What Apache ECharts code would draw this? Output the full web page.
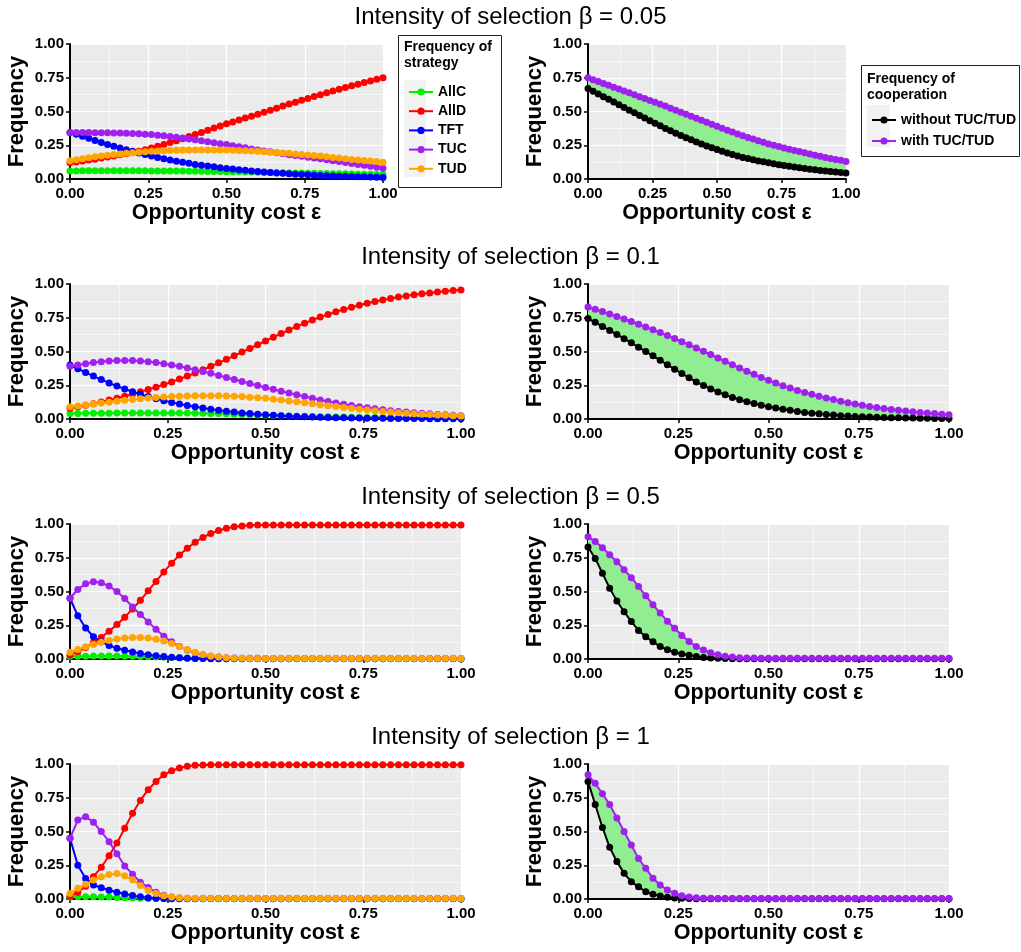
<!DOCTYPE html>
<html>
<head>
<meta charset="utf-8">
<script src="https://cdn.jsdelivr.net/npm/echarts@6/dist/echarts.min.js"></script>
<style>
  html, body { margin: 0; padding: 0; background: #fff; }
  #chart { width: 1021px; height: 952px; }
</style>
</head>
<body>
<div id="chart"></div>
<script>
// opportunity cost grid (x values)
var EPS = [0.00,0.02,0.04,0.06,0.08,0.10,0.12,0.14,0.16,0.18,
           0.20,0.22,0.24,0.26,0.28,0.30,0.32,0.34,0.36,0.38,
           0.40,0.42,0.44,0.46,0.48,0.50,0.52,0.54,0.56,0.58,
           0.60,0.62,0.64,0.66,0.68,0.70,0.72,0.74,0.76,0.78,
           0.80,0.82,0.84,0.86,0.88,0.90,0.92,0.94,0.96,0.98,
           1.00];
var STRATEGIES = ['AllC', 'AllD', 'TFT', 'TUC', 'TUD'];
var COOP_NAMES = ['without TUC/TUD', 'with TUC/TUD'];
var BETA_TITLES = ['Intensity of selection β = 0.05', 'Intensity of selection β = 0.1',
                   'Intensity of selection β = 0.5', 'Intensity of selection β = 1'];

// beta = 0.05
var allc_b005 = [0.060,0.060,0.061,0.061,0.061,0.061,0.061,0.061,0.061,0.061,
  0.061,0.061,0.061,0.060,0.060,0.060,0.060,0.059,0.059,0.058,
  0.058,0.057,0.056,0.056,0.055,0.054,0.053,0.053,0.052,0.051,
  0.050,0.049,0.048,0.047,0.046,0.045,0.044,0.044,0.043,0.042,
  0.041,0.040,0.039,0.038,0.038,0.037,0.036,0.035,0.035,0.034,0.033];
var alld_b005 = [0.120,0.126,0.133,0.140,0.147,0.155,0.163,0.171,0.179,0.187,
  0.196,0.206,0.217,0.229,0.242,0.256,0.270,0.284,0.299,0.314,
  0.329,0.345,0.361,0.377,0.393,0.409,0.423,0.437,0.451,0.465,
  0.480,0.495,0.510,0.525,0.540,0.555,0.569,0.583,0.597,0.611,
  0.625,0.638,0.651,0.664,0.677,0.690,0.702,0.714,0.726,0.738,0.750];
var tft_b005 = [0.345,0.331,0.317,0.302,0.286,0.270,0.256,0.242,0.229,0.217,
  0.205,0.193,0.181,0.170,0.160,0.150,0.141,0.132,0.124,0.116,
  0.108,0.102,0.096,0.090,0.084,0.078,0.074,0.069,0.065,0.060,
  0.055,0.052,0.049,0.045,0.042,0.038,0.036,0.033,0.031,0.028,
  0.026,0.024,0.023,0.021,0.020,0.018,0.017,0.016,0.014,0.013,0.012];
var tuc_b005 = [0.345,0.345,0.344,0.344,0.343,0.343,0.342,0.341,0.340,0.339,
  0.337,0.335,0.332,0.329,0.325,0.320,0.315,0.309,0.303,0.297,
  0.290,0.283,0.276,0.269,0.262,0.255,0.247,0.239,0.231,0.223,
  0.215,0.208,0.201,0.194,0.187,0.180,0.174,0.168,0.162,0.156,
  0.150,0.143,0.136,0.129,0.122,0.115,0.108,0.101,0.094,0.087,0.080];
var tud_b005 = [0.135,0.143,0.150,0.157,0.164,0.170,0.176,0.181,0.186,0.191,
  0.195,0.199,0.202,0.205,0.208,0.210,0.212,0.213,0.214,0.215,
  0.215,0.215,0.215,0.215,0.215,0.214,0.213,0.211,0.209,0.207,
  0.205,0.202,0.199,0.196,0.193,0.190,0.186,0.182,0.178,0.174,
  0.170,0.165,0.160,0.155,0.150,0.145,0.141,0.137,0.133,0.129,0.125];
var without_b005 = [0.670,0.650,0.630,0.610,0.590,0.570,0.550,0.530,0.510,0.490,
  0.470,0.451,0.432,0.413,0.394,0.375,0.357,0.339,0.322,0.306,
  0.290,0.275,0.260,0.245,0.231,0.218,0.205,0.193,0.181,0.170,
  0.160,0.151,0.142,0.134,0.127,0.120,0.113,0.106,0.100,0.094,
  0.088,0.083,0.078,0.073,0.068,0.063,0.059,0.055,0.051,0.048,0.045];
var with_b005 = [0.750,0.736,0.722,0.708,0.694,0.680,0.666,0.652,0.638,0.624,
  0.610,0.596,0.582,0.568,0.554,0.540,0.525,0.510,0.495,0.480,
  0.465,0.450,0.435,0.420,0.405,0.390,0.376,0.362,0.348,0.334,
  0.320,0.308,0.296,0.284,0.272,0.260,0.250,0.240,0.230,0.221,
  0.212,0.203,0.194,0.185,0.176,0.168,0.160,0.152,0.145,0.138,0.130];

// beta = 0.1
var allc_b01 = [0.040,0.041,0.042,0.042,0.043,0.043,0.044,0.044,0.045,0.045,
  0.045,0.045,0.045,0.045,0.044,0.044,0.043,0.042,0.041,0.040,
  0.038,0.036,0.034,0.032,0.030,0.028,0.026,0.025,0.023,0.021,
  0.020,0.019,0.017,0.016,0.015,0.014,0.013,0.012,0.011,0.011,
  0.010,0.009,0.009,0.008,0.008,0.007,0.007,0.006,0.006,0.005,0.005];
var alld_b01 = [0.080,0.090,0.101,0.113,0.126,0.140,0.154,0.169,0.185,0.201,
  0.218,0.236,0.255,0.275,0.296,0.318,0.341,0.365,0.390,0.416,
  0.442,0.469,0.496,0.523,0.550,0.578,0.606,0.633,0.660,0.686,
  0.710,0.733,0.755,0.775,0.794,0.812,0.828,0.843,0.857,0.870,
  0.882,0.893,0.903,0.912,0.920,0.927,0.934,0.940,0.946,0.951,0.956];
var tft_b01 = [0.400,0.372,0.345,0.318,0.292,0.267,0.244,0.222,0.202,0.183,
  0.166,0.150,0.136,0.123,0.111,0.100,0.090,0.081,0.072,0.064,
  0.057,0.051,0.045,0.040,0.035,0.031,0.027,0.024,0.021,0.019,
  0.016,0.014,0.013,0.011,0.010,0.009,0.008,0.007,0.006,0.005,
  0.005,0.004,0.004,0.003,0.003,0.003,0.002,0.002,0.002,0.002,0.002];
var tuc_b01 = [0.390,0.400,0.410,0.418,0.425,0.430,0.433,0.434,0.433,0.430,
  0.425,0.418,0.410,0.400,0.390,0.378,0.365,0.352,0.338,0.323,
  0.308,0.293,0.278,0.263,0.248,0.234,0.220,0.206,0.192,0.179,
  0.166,0.153,0.141,0.130,0.119,0.109,0.100,0.091,0.083,0.076,
  0.069,0.062,0.056,0.051,0.046,0.042,0.038,0.034,0.031,0.028,0.025];
var tud_b01 = [0.090,0.097,0.104,0.111,0.118,0.125,0.132,0.138,0.144,0.150,
  0.155,0.159,0.163,0.166,0.169,0.171,0.172,0.173,0.173,0.172,
  0.171,0.169,0.166,0.162,0.158,0.153,0.147,0.141,0.134,0.127,
  0.120,0.113,0.106,0.099,0.092,0.085,0.079,0.073,0.067,0.061,
  0.056,0.051,0.047,0.043,0.039,0.036,0.033,0.030,0.027,0.025,0.022];
var without_b01 = [0.745,0.716,0.686,0.656,0.626,0.595,0.564,0.532,0.500,0.468,
  0.435,0.402,0.369,0.337,0.305,0.275,0.248,0.223,0.200,0.179,
  0.160,0.143,0.128,0.114,0.102,0.091,0.081,0.072,0.064,0.056,
  0.049,0.043,0.038,0.033,0.029,0.025,0.022,0.019,0.017,0.015,
  0.013,0.011,0.010,0.009,0.008,0.007,0.006,0.005,0.004,0.004,0.003];
var with_b01 = [0.830,0.813,0.796,0.778,0.760,0.741,0.722,0.702,0.682,0.661,
  0.640,0.618,0.596,0.573,0.550,0.526,0.502,0.477,0.452,0.427,
  0.402,0.378,0.354,0.331,0.308,0.287,0.266,0.247,0.229,0.212,
  0.197,0.183,0.169,0.156,0.144,0.132,0.121,0.111,0.102,0.093,
  0.085,0.078,0.071,0.065,0.059,0.054,0.049,0.044,0.040,0.036,0.032];

// beta = 0.5
var allc_b05 = [0.020,0.021,0.021,0.022,0.022,0.022,0.022,0.021,0.020,0.019,
  0.017,0.015,0.013,0.011,0.009,0.007,0.005,0.004,0.003,0.002,
  0.002,0.001,0.001,0.001,0.001,0.001,0.001,0.001,0.001,0.001,
  0.001,0.001,0.001,0.001,0.001,0.001,0.001,0.001,0.001,0.001,
  0.001,0.001,0.001,0.001,0.001,0.001,0.001,0.001,0.001,0.001,0.001];
var alld_b05 = [0.030,0.055,0.085,0.120,0.160,0.205,0.255,0.310,0.370,0.435,
  0.505,0.575,0.645,0.710,0.770,0.820,0.865,0.900,0.930,0.952,
  0.968,0.979,0.986,0.990,0.992,0.993,0.993,0.993,0.993,0.993,
  0.993,0.993,0.993,0.993,0.993,0.993,0.993,0.993,0.993,0.993,
  0.993,0.993,0.993,0.993,0.993,0.993,0.993,0.993,0.993,0.993,0.993];
var tft_b05 = [0.450,0.320,0.230,0.165,0.128,0.100,0.080,0.065,0.052,0.041,
  0.032,0.024,0.018,0.013,0.009,0.006,0.004,0.003,0.002,0.002,
  0.001,0.001,0.001,0.001,0.001,0.001,0.001,0.001,0.001,0.001,
  0.001,0.001,0.001,0.001,0.001,0.001,0.001,0.001,0.001,0.001,
  0.001,0.001,0.001,0.001,0.001,0.001,0.001,0.001,0.001,0.001,0.001];
var tuc_b05 = [0.450,0.515,0.558,0.573,0.565,0.540,0.500,0.448,0.385,0.330,
  0.275,0.220,0.168,0.127,0.094,0.067,0.046,0.031,0.021,0.014,
  0.010,0.008,0.006,0.005,0.005,0.004,0.004,0.004,0.004,0.004,
  0.004,0.004,0.004,0.004,0.004,0.004,0.004,0.004,0.004,0.004,
  0.004,0.004,0.004,0.004,0.004,0.004,0.004,0.004,0.004,0.004,0.004];
var tud_b05 = [0.050,0.070,0.090,0.108,0.124,0.137,0.148,0.156,0.160,0.160,
  0.156,0.147,0.133,0.114,0.092,0.070,0.050,0.034,0.022,0.014,
  0.009,0.006,0.005,0.004,0.004,0.003,0.003,0.003,0.003,0.003,
  0.003,0.003,0.003,0.003,0.003,0.003,0.003,0.003,0.003,0.003,
  0.003,0.003,0.003,0.003,0.003,0.003,0.003,0.003,0.003,0.003,0.003];
var without_b05 = [0.830,0.745,0.635,0.525,0.430,0.350,0.277,0.212,0.165,0.128,
  0.092,0.068,0.050,0.037,0.027,0.018,0.012,0.008,0.005,0.003,
  0.002,0.002,0.002,0.002,0.002,0.002,0.001,0.001,0.001,0.001,
  0.001,0.001,0.001,0.001,0.001,0.001,0.001,0.001,0.001,0.001,
  0.001,0.001,0.001,0.001,0.001,0.001,0.001,0.001,0.001,0.001,0.001];
var with_b05 = [0.906,0.870,0.825,0.772,0.720,0.662,0.602,0.537,0.468,0.402,
  0.340,0.280,0.228,0.175,0.130,0.092,0.066,0.046,0.031,0.021,
  0.014,0.010,0.008,0.007,0.006,0.005,0.005,0.005,0.005,0.005,
  0.005,0.005,0.005,0.005,0.005,0.005,0.005,0.005,0.005,0.005,
  0.005,0.005,0.005,0.005,0.005,0.005,0.005,0.005,0.005,0.005,0.005];

// beta = 1
var allc_b1 = [0.015,0.016,0.016,0.016,0.015,0.014,0.012,0.010,0.008,0.006,
  0.004,0.003,0.002,0.001,0.001,0.001,0.001,0.001,0.001,0.001,
  0.001,0.001,0.001,0.001,0.001,0.001,0.001,0.001,0.001,0.001,
  0.001,0.001,0.001,0.001,0.001,0.001,0.001,0.001,0.001,0.001,
  0.001,0.001,0.001,0.001,0.001,0.001,0.001,0.001,0.001,0.001,0.001];
var alld_b1 = [0.020,0.050,0.095,0.165,0.235,0.320,0.415,0.525,0.635,0.730,
  0.810,0.870,0.920,0.950,0.970,0.983,0.990,0.993,0.994,0.995,
  0.995,0.995,0.995,0.995,0.995,0.995,0.995,0.995,0.995,0.995,
  0.995,0.995,0.995,0.995,0.995,0.995,0.995,0.995,0.995,0.995,
  0.995,0.995,0.995,0.995,0.995,0.995,0.995,0.995,0.995,0.995,0.995];
var tft_b1 = [0.450,0.250,0.152,0.104,0.083,0.065,0.050,0.037,0.026,0.017,
  0.010,0.006,0.003,0.002,0.001,0.001,0.001,0.001,0.001,0.001,
  0.001,0.001,0.001,0.001,0.001,0.001,0.001,0.001,0.001,0.001,
  0.001,0.001,0.001,0.001,0.001,0.001,0.001,0.001,0.001,0.001,
  0.001,0.001,0.001,0.001,0.001,0.001,0.001,0.001,0.001,0.001,0.001];
var tuc_b1 = [0.450,0.585,0.610,0.568,0.500,0.425,0.335,0.245,0.183,0.125,
  0.085,0.050,0.027,0.014,0.008,0.005,0.004,0.004,0.004,0.004,
  0.004,0.004,0.004,0.004,0.004,0.004,0.004,0.004,0.004,0.004,
  0.004,0.004,0.004,0.004,0.004,0.004,0.004,0.004,0.004,0.004,
  0.004,0.004,0.004,0.004,0.004,0.004,0.004,0.004,0.004,0.004,0.004];
var tud_b1 = [0.040,0.080,0.110,0.140,0.165,0.182,0.188,0.172,0.142,0.100,
  0.065,0.040,0.024,0.014,0.009,0.006,0.005,0.004,0.003,0.003,
  0.003,0.003,0.003,0.003,0.003,0.003,0.003,0.003,0.003,0.003,
  0.003,0.003,0.003,0.003,0.003,0.003,0.003,0.003,0.003,0.003,
  0.003,0.003,0.003,0.003,0.003,0.003,0.003,0.003,0.003,0.003,0.003];
var without_b1 = [0.870,0.700,0.530,0.383,0.277,0.190,0.128,0.090,0.054,0.035,
  0.022,0.013,0.008,0.005,0.003,0.002,0.002,0.002,0.002,0.002,
  0.002,0.002,0.002,0.002,0.002,0.002,0.002,0.002,0.002,0.002,
  0.002,0.002,0.002,0.002,0.002,0.002,0.002,0.002,0.002,0.002,
  0.002,0.002,0.002,0.002,0.002,0.002,0.002,0.002,0.002,0.002,0.002];
var with_b1 = [0.920,0.857,0.780,0.700,0.600,0.500,0.400,0.300,0.227,0.153,
  0.104,0.067,0.042,0.025,0.015,0.009,0.006,0.005,0.004,0.004,
  0.004,0.004,0.004,0.004,0.004,0.004,0.004,0.004,0.004,0.004,
  0.004,0.004,0.004,0.004,0.004,0.004,0.004,0.004,0.004,0.004,
  0.004,0.004,0.004,0.004,0.004,0.004,0.004,0.004,0.004,0.004,0.004];

var FONT = '"Liberation Sans", Arial, Helvetica, sans-serif';
var STRAT_COLORS = ['#00EE00', '#FF0000', '#0000FF', '#A020F0', '#FFA500'];
var COOP_COLORS = ['#000000', '#A020F0'];
var BAND_COLOR = '#90EE90';

var rows = [
  { strat: [allc_b005, alld_b005, tft_b005, tuc_b005, tud_b005], coop: [without_b005, with_b005], leftW: 313, rightW: 258 },
  { strat: [allc_b01, alld_b01, tft_b01, tuc_b01, tud_b01], coop: [without_b01, with_b01], leftW: 391, rightW: 361 },
  { strat: [allc_b05, alld_b05, tft_b05, tuc_b05, tud_b05], coop: [without_b05, with_b05], leftW: 391, rightW: 361 },
  { strat: [allc_b1, alld_b1, tft_b1, tuc_b1, tud_b1], coop: [without_b1, with_b1], leftW: 391, rightW: 361 }
];
var ROW_TOPS = [44, 284, 524, 764];
var PANEL_H = 135;
var DOT = 7;

function pairs(ys) {
  return EPS.map(function (x, i) { return [x, ys[i]]; });
}

function valueAxis(gi, isX) {
  return {
    type: 'value', gridIndex: gi, min: 0, max: 1, interval: 0.25,
    name: isX ? 'Opportunity cost ε' : 'Frequency', nameLocation: 'middle', nameGap: isX ? 19 : 42,
    nameTextStyle: isX
      ? { fontFamily: FONT, fontWeight: 'bold', fontSize: 21.5, color: '#000', verticalAlign: 'top' }
      : { fontFamily: FONT, fontWeight: 'bold', fontSize: 22, color: '#000' },
    axisLine: { show: true, onZero: false, lineStyle: { color: '#000', width: 2 } },
    axisTick: { show: true, length: 4, lineStyle: { color: '#000', width: 1.5 } },
    axisLabel: { fontFamily: FONT, fontWeight: 'bold', fontSize: 15, color: '#000', margin: isX ? 7 : 6,
                 formatter: function (v) { return v.toFixed(2); } },
    splitLine: { show: true, lineStyle: { color: '#fff', width: 1.2 } },
    minorTick: { show: false, splitNumber: 2 },
    minorSplitLine: { show: true, lineStyle: { color: '#fff', width: 0.6 } }
  };
}

var grids = [], xAxes = [], yAxes = [], series = [], titles = [];
var bandAxes = [];

rows.forEach(function (row, r) {
  var top = ROW_TOPS[r];
  var gl = 2 * r, gr = 2 * r + 1;
  grids.push({ left: 70, top: top, width: row.leftW, height: PANEL_H, show: true,
               backgroundColor: '#EBEBEB', borderWidth: 0 });
  grids.push({ left: 588, top: top, width: row.rightW, height: PANEL_H, show: true,
               backgroundColor: '#EBEBEB', borderWidth: 0 });
  xAxes[gl] = valueAxis(gl, true); xAxes[gr] = valueAxis(gr, true);
  yAxes[gl] = valueAxis(gl, false); yAxes[gr] = valueAxis(gr, false);
  // hidden category axis used only for the shaded band between the two curves
  bandAxes.push({ type: 'category', gridIndex: gr, show: false, boundaryGap: false,
                  data: EPS.map(String) });

  titles.push({ text: BETA_TITLES[r], left: 'center', top: top - 44,
                textStyle: { fontFamily: FONT, fontWeight: 'normal', fontSize: 24, color: '#000' } });

  STRATEGIES.forEach(function (nm, k) {
    series.push({
      name: nm, type: 'line', xAxisIndex: gl, yAxisIndex: gl,
      data: pairs(row.strat[k]), symbol: 'circle', symbolSize: DOT, clip: false,
      color: STRAT_COLORS[k], lineStyle: { width: 2, color: STRAT_COLORS[k] },
      itemStyle: { color: STRAT_COLORS[k] }, z: 3 + k
    });
  });

  var without = row.coop[0], withT = row.coop[1];
  series.push({
    name: 'band_base_' + r, type: 'line', xAxisIndex: 8 + r, yAxisIndex: gr,
    stack: 'band' + r, data: without, symbol: 'none', lineStyle: { opacity: 0 }, silent: true, z: 1
  });
  series.push({
    name: 'band_' + r, type: 'line', xAxisIndex: 8 + r, yAxisIndex: gr,
    stack: 'band' + r, data: withT.map(function (v, i) { return v - without[i]; }),
    symbol: 'none', lineStyle: { opacity: 0 }, areaStyle: { color: BAND_COLOR, opacity: 1 },
    silent: true, z: 1
  });
  COOP_NAMES.forEach(function (nm, k) {
    series.push({
      name: nm, type: 'line', xAxisIndex: gr, yAxisIndex: gr,
      data: pairs(row.coop[k]), symbol: 'circle', symbolSize: DOT, clip: false,
      color: COOP_COLORS[k], lineStyle: { width: 2, color: COOP_COLORS[k] },
      itemStyle: { color: COOP_COLORS[k] }, z: 3 + k
    });
  });
});

var legendText = { fontFamily: FONT, fontWeight: 'bold', fontSize: 14, color: '#000', lineHeight: 14 };

var option = {
  animation: false,
  backgroundColor: '#fff',
  title: titles,
  grid: grids,
  xAxis: xAxes.concat(bandAxes),
  yAxis: yAxes,
  legend: [
    { data: STRATEGIES, orient: 'vertical', left: 403, top: 80, itemWidth: 24, itemHeight: 9,
      itemGap: 5.2, textStyle: legendText, selectedMode: false },
    { data: COOP_NAMES, orient: 'vertical', left: 866, top: 108, itemWidth: 24, itemHeight: 9,
      itemGap: 7, textStyle: legendText, selectedMode: false }
  ],
  graphic: [
    { type: 'rect', shape: { x: 398.5, y: 35.5, width: 103, height: 152 },
      style: { fill: '#fff', stroke: '#222', lineWidth: 1 }, z: 0 },
    { type: 'rect', shape: { x: 404, y: 80, width: 22, height: 97 },
      style: { fill: '#F2F2F2' }, z: 1 },
    { type: 'text', x: 404, y: 39,
      style: { text: 'Frequency of\nstrategy', font: 'bold 14px ' + FONT, lineHeight: 16, fill: '#000' }, z: 1 },
    { type: 'rect', shape: { x: 861.5, y: 65.5, width: 158, height: 91 },
      style: { fill: '#fff', stroke: '#222', lineWidth: 1 }, z: 0 },
    { type: 'rect', shape: { x: 867, y: 105, width: 23, height: 42 },
      style: { fill: '#F2F2F2' }, z: 1 },
    { type: 'text', x: 867, y: 71,
      style: { text: 'Frequency of\ncooperation', font: 'bold 14px ' + FONT, lineHeight: 16, fill: '#000' }, z: 1 }
  ],
  series: series
};

var chart = echarts.init(document.getElementById('chart'));
chart.setOption(option);
</script>
</body>
</html>
